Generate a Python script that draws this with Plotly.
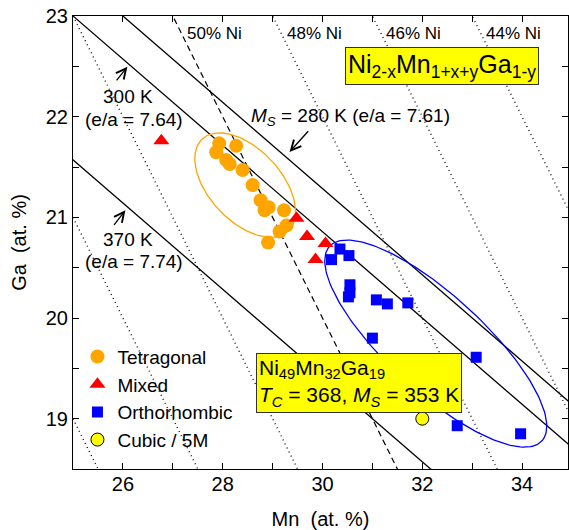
import numpy as np
import plotly.graph_objects as go

FONT = "Liberation Sans, Arial, sans-serif"

# ---------------- data ----------------
tet_mn = [27.93, 28.27, 27.87, 28.07, 28.14, 28.40, 28.60, 28.76, 28.92, 28.84, 29.23, 29.28, 29.14, 28.91]
tet_ga = [21.735, 21.71, 21.646, 21.57, 21.53, 21.47, 21.32, 21.17, 21.10, 21.07, 21.07, 20.92, 20.86, 20.75]

mix_mn = [26.77, 29.48, 29.69, 30.06, 29.86]
mix_ga = [21.76, 20.99, 20.81, 20.74, 20.58]

ort_mn = [30.35, 30.18, 30.53, 30.55, 30.55, 30.52, 31.08, 31.30, 31.71, 31.00, 33.08, 32.70, 33.97]
ort_ga = [20.685, 20.58, 20.62, 20.33, 20.25, 20.21, 20.18, 20.14, 20.15, 19.80, 19.61, 18.93, 18.85]

cub_mn = [32.0]
cub_ga = [19.0]

# e/a iso-lines (solid) and constant-Ni lines (dotted / dashed)
ea_levels = [7.61, 7.64, 7.74]
ni_dotted = [56, 54, 52, 48, 46, 44]
ni_dashed = [50]
ni_labels = ["50% Ni", "48% Ni", "46% Ni", "44% Ni"]
ni_label_mn = [27.83, 29.83, 31.83, 33.83]
ni_label_ga = [22.83, 22.83, 22.83, 22.83]

X_RANGE = [25, 34.92]
Y_RANGE = [18.5, 23]
ML, MR, MT, MB = 73, 1, 16, 61
W, H = 569, 530
SX = (W - ML - MR) / (X_RANGE[1] - X_RANGE[0])
SY = (H - MT - MB) / (Y_RANGE[1] - Y_RANGE[0])

fig = go.Figure()

mn_ext = np.array([24.0, 36.0])

def add_line(mn, ga, dash, width=1.3):
    fig.add_trace(go.Scatter(x=mn, y=ga, mode="lines", showlegend=False, hoverinfo="skip",
                             line=dict(color="black", width=width, dash=dash)))

# constant-Ni lines: Mn + Ga = 100 - Ni
for ni in ni_dotted:
    add_line(mn_ext, (100 - ni) - mn_ext, "1px,3.5px", 1.3)
for ni in ni_dashed:
    add_line(mn_ext, (100 - ni) - mn_ext, "6px,4px", 1.2)
# e/a lines: e/a = (1000 - 3 Mn - 7 Ga)/100
for ea in ea_levels:
    add_line(mn_ext, (1000 - 100 * ea - 3 * mn_ext) / 7.0, "solid", 1.3)

# ellipses (centre in data units, semi-axes in pixels, tilt in degrees)
def ellipse(cx, cy, a, b, ang, color):
    t = np.linspace(0, 2 * np.pi, 200)
    th = np.deg2rad(ang)
    dx = a * np.cos(t) * np.cos(th) - b * np.sin(t) * np.sin(th)
    dy = a * np.cos(t) * np.sin(th) + b * np.sin(t) * np.cos(th)
    fig.add_trace(go.Scatter(x=cx + dx / SX, y=cy - dy / SY, mode="lines", showlegend=False,
                             hoverinfo="skip", line=dict(color=color, width=1.3)))

ellipse(28.45, 21.32, 63, 36, 47, "#FFA500")
ellipse(32.27, 19.746, 144, 48, 42.5, "#0000FF")

fig.add_trace(go.Scatter(x=tet_mn, y=tet_ga, mode="markers", name="Tetragonal",
                         marker=dict(symbol="circle", size=14, color="#FFA500")))
fig.add_trace(go.Scatter(x=mix_mn, y=mix_ga, mode="markers", name="Mixed",
                         marker=dict(symbol="triangle-up", size=14, color="#FF0000")))
fig.add_trace(go.Scatter(x=ort_mn, y=ort_ga, mode="markers", name="Orthorhombic",
                         marker=dict(symbol="square", size=11, color="#0000FF")))
fig.add_trace(go.Scatter(x=cub_mn, y=cub_ga, mode="markers", name="Cubic / 5M",
                         marker=dict(symbol="circle", size=13, color="#FFFF00",
                                     line=dict(color="black", width=1))))

ann = []
for txt_, x, y in zip(ni_labels, ni_label_mn, ni_label_ga):
    ann.append(dict(x=x, y=y, text=txt_, showarrow=False, font=dict(size=17)))

def txt(x, y, s, size=19, **kw):
    d = dict(x=x, y=y, xref="x", yref="y", text=s, showarrow=False, font=dict(size=size))
    d.update(kw)
    ann.append(d)

txt(26.10, 22.197, "300 K")
txt(26.22, 21.976, "(e/a = 7.64)")
txt(26.10, 20.777, "370 K")
txt(26.23, 20.559, "(e/a = 7.74)")
txt(30.56, 22.0, "<i>M<sub>S</sub></i> = 280 K (e/a = 7.61)")

def arrow(x, y, ax, ay):
    ann.append(dict(x=x, y=y, ax=ax, ay=ay, xref="x", yref="y", axref="x", ayref="y",
                    text="", showarrow=True, arrowhead=5, arrowsize=1.5, arrowwidth=1.3,
                    arrowcolor="black"))

arrow(26.09, 22.495, 25.85, 22.346)
arrow(29.34, 21.65, 29.74, 21.87)
arrow(26.05, 21.07, 25.80, 20.91)

txt(32.40, 22.505, "Ni<sub>2-x</sub>Mn<sub>1+x+y</sub>Ga<sub>1-y</sub>", size=25,
    bgcolor="#FFFF00", bordercolor="#333333", borderwidth=1, borderpad=2)
txt(30.73, 19.35, "Ni<sub>49</sub>Mn<sub>32</sub>Ga<sub>19</sub><br><i>T<sub>C</sub></i> = 368, <i>M<sub>S</sub></i> = 353 K",
    size=21, align="left", bgcolor="#FFFF00", bordercolor="#333333", borderwidth=1, borderpad=2)

axis_common = dict(showline=True, linecolor="black", linewidth=1.2, mirror="allticks",
                   ticks="inside", ticklen=6, tickwidth=1, tickcolor="black",
                   showgrid=False, zeroline=False, tickfont=dict(size=20), automargin=False)

fig.update_xaxes(range=X_RANGE, dtick=2, tick0=26, ticklabelstandoff=-3,
                 minor=dict(dtick=1, tick0=25, ticks="inside", ticklen=6, tickcolor="black"),
                 title=dict(text="Mn  (at. %)", font=dict(size=20), standoff=22), **axis_common)
fig.update_yaxes(range=Y_RANGE, dtick=1, tick0=19,
                 minor=dict(dtick=0.5, ticks="inside", ticklen=6, tickcolor="black"),
                 title=dict(text="Ga  (at. %)", font=dict(size=20), standoff=13), **axis_common)

fig.update_layout(
    width=W, height=H, margin=dict(l=ML, r=MR, t=MT, b=MB),
    plot_bgcolor="white", paper_bgcolor="white",
    font=dict(family=FONT, color="black"),
    annotations=ann,
    legend=dict(x=0.009, y=0.29, xanchor="left", yanchor="top", font=dict(size=19),
                bgcolor="rgba(0,0,0,0)", tracegroupgap=0),
)

fig.write_html("out.html", config={"displayModeBar": False},
               post_script="document.body.style.margin='0px';")
